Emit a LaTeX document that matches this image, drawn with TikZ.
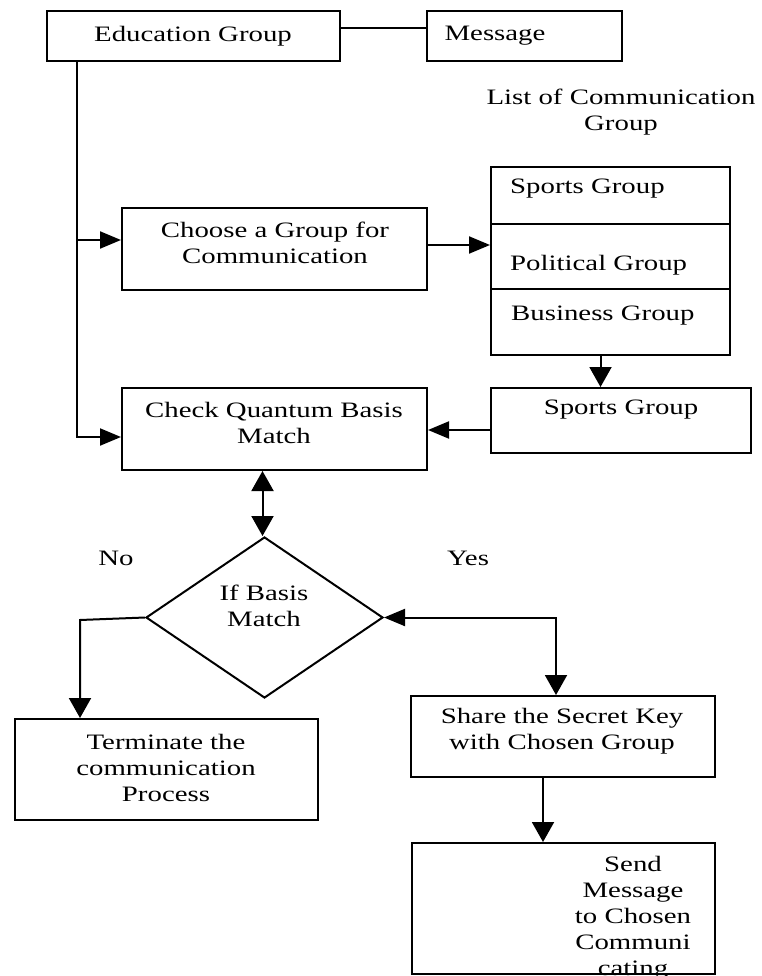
\documentclass[tikz,border=0pt]{standalone}
\usepackage{fontspec}
\setmainfont{Liberation Serif}[FakeStretch=1.31]
\usetikzlibrary{shapes.geometric,arrows.meta}
\begin{document}
\begin{tikzpicture}[x=1pt,y=-1pt,
 box/.style={draw, line width=2pt, inner sep=0pt, rectangle},
 dbox/.style={draw, line width=2pt, inner sep=0pt, diamond},
 txt/.style={inner sep=0pt, align=center, font=\fontsize{22}{26}\selectfont},
 conn/.style={line width=2pt},
 harr/.style={conn, -{Triangle[length=21pt,width=17pt]}},
 varr/.style={conn, -{Triangle[length=20pt,width=22pt]}},
 vdbl/.style={conn, {Triangle[length=20pt,width=22pt]}-{Triangle[length=20pt,width=22pt]}},
 hvdbl/.style={conn, {Triangle[length=21pt,width=17pt]}-{Triangle[length=20pt,width=22pt]}},
]
\useasboundingbox (0,0) rectangle (761,976);
\clip (0,0) rectangle (761,976);

% boxes
\node[box, minimum width=293pt, minimum height=50pt] (edu) at (193.5,36) {};
\node[box, minimum width=195pt, minimum height=50pt] (msg) at (524,36) {};
\node[box, minimum width=305pt, minimum height=82pt] (choose) at (274.5,249) {};
\node[box, minimum width=239pt, minimum height=188pt] (list) at (610.5,261) {};
\node[box, minimum width=260pt, minimum height=65pt] (sp) at (621,420.5) {};
\node[box, minimum width=305pt, minimum height=82pt] (check) at (274.5,429) {};
\node[dbox, minimum width=237pt, minimum height=161pt] (dia) at (264.5,617.5) {};
\node[box, minimum width=303pt, minimum height=101pt] (term) at (166.5,769.5) {};
\node[box, minimum width=304pt, minimum height=81pt] (share) at (563,736.5) {};
\node[box, minimum width=303pt, minimum height=131pt] (send) at (563.5,908.5) {};

% list dividers
\coordinate (d1) at (0,224);
\coordinate (d2) at (0,289);
\draw[conn] (list.west |- d1) -- (list.east |- d1);
\draw[conn] (list.west |- d2) -- (list.east |- d2);

% texts
\node[txt] (tedu) at (193,36) {Education Group};
\node[txt] (tmsg) at (495,36) {Message};
\node[txt] (tlist) at (621,112) {List of Communication\\Group};
\node[txt] (tchoose) at (275,243) {Choose a Group for\\Communication};
\node[txt, anchor=west] (tl1) at (510,189) {Sports Group};
\node[txt, anchor=west] (tl2) at (510,265) {Political Group};
\node[txt, anchor=west] (tl3) at (511,316) {Business Group};
\node[txt] (tsp) at (621,410) {Sports Group};
\node[txt] (tcheck) at (274,423) {Check Quantum Basis\\Match};
\node[txt] (tdia) at (264,606) {If Basis\\Match};
\node[txt] (tno) at (116,558) {No};
\node[txt] (tyes) at (468,558) {Yes};
\node[txt] (tterm) at (166,768) {Terminate the\\communication\\Process};
\node[txt] (tshare) at (562,731) {Share the Secret Key\\with Chosen Group};
\node[txt] (tsend) at (633,918) {Send\\Message\\to Chosen\\Communi\\cating};

% connectors
\draw[conn] ([yshift=8pt]edu.east) -- ([yshift=8pt]msg.west);
\coordinate (trunk) at ([xshift=31pt]edu.south west);
\coordinate (a1) at ([yshift=9pt]choose.west);
\coordinate (a2) at ([yshift=-8pt]check.west);
\draw[harr] (trunk) |- (a1);
\draw[harr] (trunk) |- (a2);
\coordinate (c1) at ([yshift=4pt]choose.east);
\draw[harr] (c1) -- (c1 -| list.west);
\coordinate (c2) at ([xshift=-10pt]list.south);
\draw[varr] (c2) -- (c2 |- sp.north);
\coordinate (c3) at ([yshift=-9.5pt]sp.west);
\draw[harr] (c3) -- (c3 -| check.east);
\coordinate (c4) at ([xshift=-12pt]check.south);
\draw[vdbl] (c4) -- (c4 |- dia.north);
\coordinate (noc) at (80,620);
\draw[varr] (dia.west) -- (noc) -- (noc |- term.north);
\coordinate (yc) at (556,617.5);
\draw[hvdbl] (dia.east) -- (yc) -- (yc |- share.north);
\coordinate (c5) at ([xshift=-20pt]share.south);
\draw[varr] (c5) -- (c5 |- send.north);
\end{tikzpicture}
\end{document}
